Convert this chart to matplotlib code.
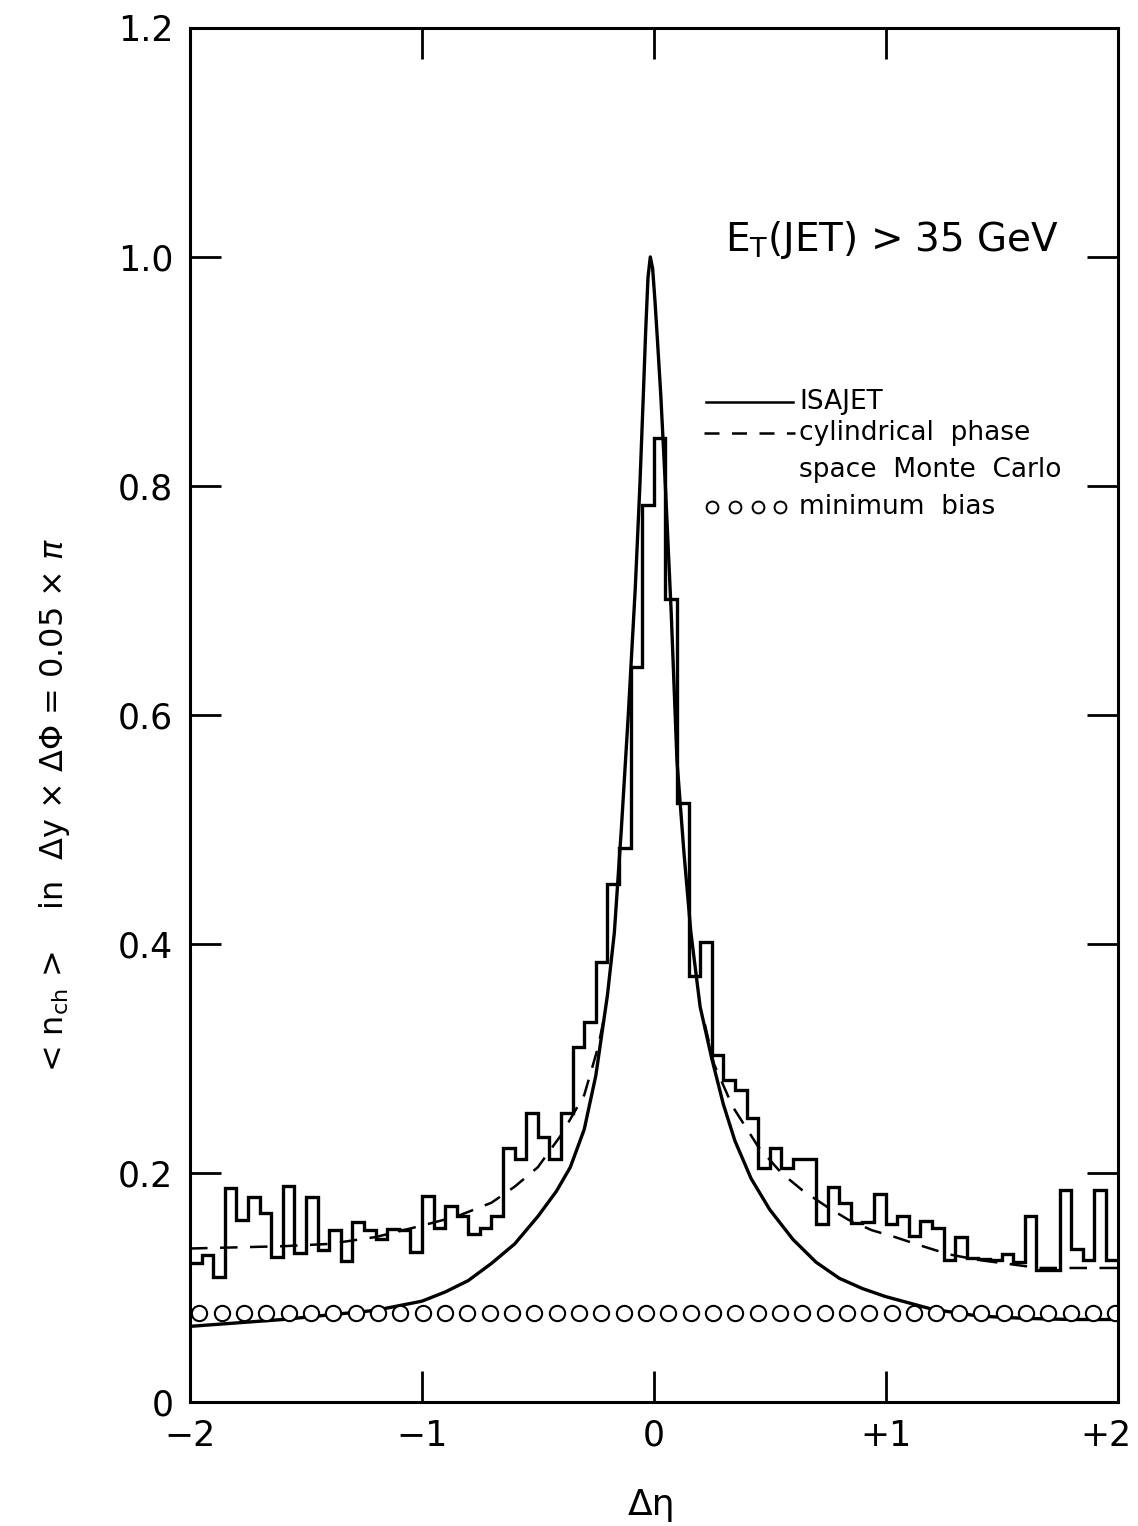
import numpy as np
import matplotlib.pyplot as plt
import matplotlib.transforms as mtransforms

# histogram: <n_ch> per bin of 0.05 in delta eta
bin_edges = np.linspace(-2.0, 2.0, 81)
hist_vals = [0.121, 0.128, 0.109, 0.187, 0.159, 0.179, 0.165, 0.127, 0.189, 0.130,
             0.179, 0.133, 0.150, 0.123, 0.157, 0.150, 0.142, 0.151, 0.150, 0.131,
             0.180, 0.152, 0.171, 0.162, 0.147, 0.152, 0.162, 0.222, 0.212, 0.252,
             0.231, 0.212, 0.252, 0.310, 0.332, 0.384, 0.452, 0.484, 0.642, 0.783,
             0.842, 0.701, 0.523, 0.372, 0.402, 0.303, 0.281, 0.272, 0.248, 0.204,
             0.222, 0.204, 0.212, 0.212, 0.155, 0.188, 0.174, 0.156, 0.157, 0.182,
             0.155, 0.162, 0.145, 0.158, 0.152, 0.124, 0.144, 0.126, 0.125, 0.124,
             0.129, 0.122, 0.162, 0.115, 0.115, 0.185, 0.134, 0.124, 0.185, 0.124]

# ISAJET (solid)
isajet_x = [-2.0, -1.8, -1.6, -1.4, -1.2, -1.0, -0.9, -0.8, -0.7, -0.6, -0.5, -0.42,
            -0.36, -0.30, -0.25, -0.20, -0.17, -0.14, -0.11, -0.08, -0.06, -0.045,
            -0.035, -0.025, -0.015, -0.005, 0.005, 0.015, 0.03, 0.05, 0.075, 0.10,
            0.13, 0.16, 0.20, 0.25, 0.30, 0.35, 0.42, 0.50, 0.60, 0.70, 0.80, 0.90,
            1.0, 1.2, 1.4, 1.6, 1.8, 2.0]
isajet_y = [0.066, 0.069, 0.072, 0.076, 0.080, 0.088, 0.096, 0.106, 0.121, 0.138,
            0.162, 0.184, 0.205, 0.238, 0.285, 0.355, 0.41, 0.50, 0.60, 0.71, 0.80,
            0.88, 0.935, 0.982, 1.0, 0.99, 0.962, 0.93, 0.88, 0.80, 0.69, 0.56,
            0.48, 0.41, 0.345, 0.30, 0.26, 0.228, 0.195, 0.168, 0.142, 0.122, 0.108,
            0.099, 0.092, 0.081, 0.075, 0.073, 0.072, 0.072]

# cylindrical phase space Monte Carlo (dashed), two wings
cps_x = [-2.0, -1.8, -1.6, -1.4, -1.2, -1.0, -0.85, -0.7, -0.6, -0.5, -0.4, -0.3,
         -0.24, -0.21, np.nan, 0.22, 0.26, 0.34, 0.45, 0.55, 0.64, 0.75, 0.84,
         0.94, 1.04, 1.16, 1.27, 1.4, 1.55, 1.66, 1.8, 2.0]
cps_y = [0.134, 0.135, 0.136, 0.138, 0.144, 0.154, 0.162, 0.174, 0.188, 0.205,
         0.233, 0.268, 0.31, 0.34, np.nan, 0.33, 0.295, 0.258, 0.223, 0.200,
         0.185, 0.170, 0.159, 0.150, 0.144, 0.136, 0.129, 0.124, 0.120, 0.117,
         0.117, 0.117]

# minimum bias (open circles)
minbias_x = np.linspace(-1.96, 1.99, 42)
minbias_y = [0.078] * 42

xtick_vals = [-2, -1, 0, 1, 2]
xtick_text = ['\u22122', '\u22121', '0', '+1', '+2']
ytick_vals = [0, 0.2, 0.4, 0.6, 0.8, 1.0, 1.2]
ytick_text = ['0', '0.2', '0.4', '0.6', '0.8', '1.0', '1.2']

plt.rcParams['font.family'] = ['DejaVu Sans']
plt.rcParams['mathtext.fontset'] = 'dejavusans'

fig = plt.figure(figsize=(11.38, 15.26), dpi=100)
ax = fig.add_axes([0.167, 0.0813, 0.815, 0.9004])

ax.stairs(hist_vals, bin_edges, baseline=None, color='black', linewidth=2.4)
ax.plot(isajet_x, isajet_y, color='black', linewidth=2.4)
ax.plot(cps_x, cps_y, color='black', linewidth=1.8, dashes=(7, 5))
ax.plot(minbias_x, minbias_y, linestyle='none', marker='o', markersize=11,
        markerfacecolor='white', markeredgecolor='black', markeredgewidth=1.5)

ax.set_xlim(-2, 2)
ax.set_ylim(0, 1.2)
ax.set_xticks(xtick_vals)
ax.set_xticklabels(xtick_text)
ax.set_yticks(ytick_vals)
ax.set_yticklabels(ytick_text)
ax.tick_params(direction='in', length=22, width=2, labelsize=25,
               top=True, right=True, pad=12)
for sp in ax.spines.values():
    sp.set_linewidth(2.2)

# keep "+2" inside the figure
last_lab = ax.get_xticklabels()[-1]
last_lab.set_transform(last_lab.get_transform() +
                       mtransforms.ScaledTranslation(-0.12, 0, fig.dpi_scale_trans))

# legend drawn by hand
ax.plot([0.556, 0.650], [0.728, 0.728], transform=ax.transAxes, color='black', linewidth=1.8)
ax.plot([0.554, 0.652], [0.705, 0.705], transform=ax.transAxes, color='black',
        linewidth=1.8, dashes=(6, 5))
ax.plot([0.563, 0.588, 0.612, 0.636], [0.651] * 4, transform=ax.transAxes,
        linestyle='none', marker='o', markersize=8.5, markerfacecolor='white',
        markeredgecolor='black', markeredgewidth=1.4)
leg_txt = dict(transform=ax.transAxes, fontsize=19, va='center', ha='left')
ax.text(0.657, 0.728, 'ISAJET', **leg_txt)
ax.text(0.657, 0.705, 'cylindrical  phase', **leg_txt)
ax.text(0.657, 0.678, 'space  Monte  Carlo', **leg_txt)
ax.text(0.657, 0.651, 'minimum  bias', **leg_txt)

ax.text(0.577, 0.846, r'E$_\mathrm{T}$(JET) > 35 GeV', transform=ax.transAxes,
        fontsize=28, va='center', ha='left')

fig.text(652 / 1138, 1 - 1505 / 1526, '\u0394\u03b7', fontsize=26, ha='center', va='center')
fig.text(55 / 1138, 1 - 805 / 1526,
         r'< n$_\mathrm{ch}$ >    in  $\Delta$y $\times$ $\Delta\Phi$ = 0.05 $\times$ $\pi$',
         fontsize=23, rotation=90, ha='center', va='center')

fig.savefig('out.png', dpi=100)
